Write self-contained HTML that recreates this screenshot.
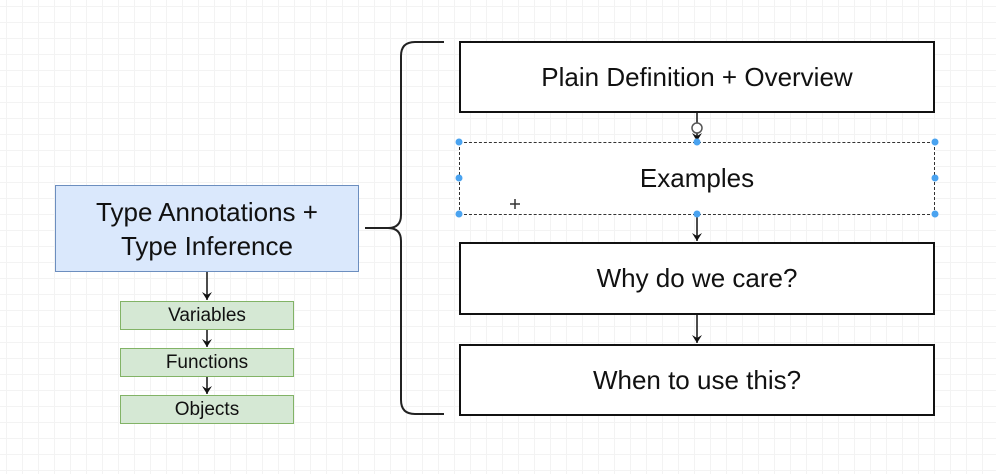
<!DOCTYPE html>
<html><head><style>
body{margin:0;width:996px;height:474px;overflow:hidden;background:#fff;
background-image:linear-gradient(#f3f3f3 1px,transparent 1px),linear-gradient(90deg,#f3f3f3 1px,transparent 1px);background-size:16px 16px;background-position:6px 6px;font-family:"Liberation Sans",sans-serif}
.b{position:absolute;box-sizing:border-box;display:flex;align-items:center;justify-content:center;text-align:center;color:#111}
</style></head><body>
<svg width="996" height="474" style="position:absolute;left:0;top:0">
<defs><marker id="a" markerWidth="10" markerHeight="10" refX="8" refY="5" orient="auto" markerUnits="userSpaceOnUse"><path d="M0,0 L8,5 L0,10 L3,5 Z" fill="#111"/></marker></defs>
<path d="M365,228 H388 Q401,228 401,215 V56 Q401,42 415,42 H444 M388,228 Q401,228 401,241 V400 Q401,414 415,414 H444" fill="none" stroke="#222" stroke-width="2"/>
<g stroke="#111" stroke-width="1.5" fill="none">
<line x1="207" y1="272" x2="207" y2="300" marker-end="url(#a)"/>
<line x1="207" y1="330" x2="207" y2="347" marker-end="url(#a)"/>
<line x1="207" y1="377" x2="207" y2="394" marker-end="url(#a)"/>
<line x1="697" y1="113" x2="697" y2="141" marker-end="url(#a)"/>
<line x1="697" y1="215" x2="697" y2="241" marker-end="url(#a)"/>
<line x1="697" y1="315" x2="697" y2="343" marker-end="url(#a)"/>
</g>
<circle cx="697" cy="128" r="5" fill="#fff" stroke="#555" stroke-width="1.5"/>
</svg>
<div class="b" style="left:55px;top:185px;width:304px;height:87px;background:#dae8fc;border:1.5px solid #6c8ebf;font-size:26px;line-height:34px">Type Annotations +<br>Type Inference</div>
<div class="b" style="left:120px;top:301px;width:174px;height:29px;background:#d5e8d4;border:1.5px solid #82b366;font-size:19px">Variables</div>
<div class="b" style="left:120px;top:348px;width:174px;height:29px;background:#d5e8d4;border:1.5px solid #82b366;font-size:19px">Functions</div>
<div class="b" style="left:120px;top:395px;width:174px;height:29px;background:#d5e8d4;border:1.5px solid #82b366;font-size:19px">Objects</div>
<div class="b" style="left:459px;top:41px;width:476px;height:72px;background:#fff;border:2px solid #111;font-size:26px">Plain Definition + Overview</div>
<div class="b" style="left:459px;top:142px;width:476px;height:73px;background:#fff;border:1.5px dashed #333;font-size:26px">Examples</div>
<div class="b" style="left:459px;top:242px;width:476px;height:73px;background:#fff;border:2px solid #111;font-size:26px">Why do we care?</div>
<div class="b" style="left:459px;top:344px;width:476px;height:72px;background:#fff;border:2px solid #111;font-size:26px">When to use this?</div>
<svg width="996" height="474" style="position:absolute;left:0;top:0">
<g fill="#4aa3f0"><circle cx="459" cy="142" r="3.5"/><circle cx="697" cy="142" r="3.5"/><circle cx="935" cy="142" r="3.5"/><circle cx="459" cy="178" r="3.5"/><circle cx="935" cy="178" r="3.5"/><circle cx="459" cy="214" r="3.5"/><circle cx="697" cy="214" r="3.5"/><circle cx="935" cy="214" r="3.5"/></g>
<path d="M515,199 V209 M510,204 H520" stroke="#333" stroke-width="1.5"/>
</svg>
</body></html>
